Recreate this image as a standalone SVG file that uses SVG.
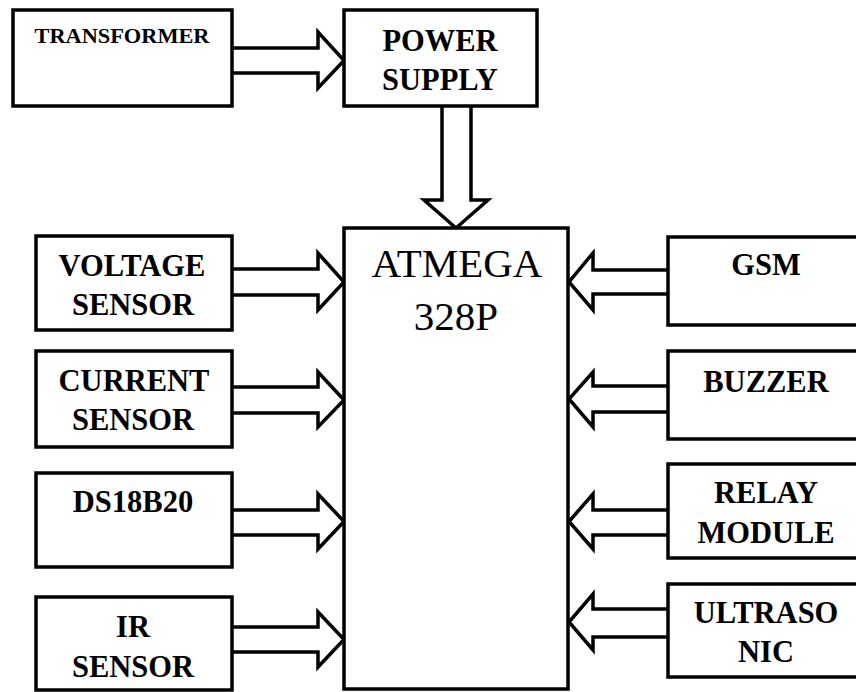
<svg xmlns="http://www.w3.org/2000/svg" width="856" height="692" viewBox="0 0 856 692">
<style>
.box{fill:#fff;stroke:#000;stroke-width:3.5}
.arr{fill:none;stroke:#000;stroke-width:3.5;stroke-linejoin:miter}
.lbl{font-family:"Liberation Serif","Times New Roman",serif;font-weight:bold;font-size:30.5px;text-anchor:middle;fill:#000}
.mcu{font-family:"Liberation Serif","Times New Roman",serif;font-size:41px;text-anchor:middle;fill:#000}
</style>
<rect width="856" height="692" fill="#fff"/>
<g id="connectors">
<path class="arr" d="M232,48 L318,48 L318,32 L344,60.5 L318,88 L318,73 L232,73"/>
<path class="arr" d="M442,106 L442,200 L424,200 L456,228 L488,200 L471,200 L471,106"/>
<path class="arr" d="M232,269 L318,269 L318,253 L344,282 L318,310 L318,295 L232,295"/>
<path class="arr" d="M232,387 L318,387 L318,372 L344,400 L318,427 L318,413 L232,413"/>
<path class="arr" d="M232,510 L318,510 L318,494 L344,521.5 L318,549 L318,535 L232,535"/>
<path class="arr" d="M232,627 L318,627 L318,612 L344,639.5 L318,667 L318,652 L232,652"/>
<path class="arr" d="M668,270 L593,270 L593,253 L569,282 L593,310 L593,294 L668,294"/>
<path class="arr" d="M668,386 L593,386 L593,372 L569,399 L593,427 L593,412 L668,412"/>
<path class="arr" d="M668,510 L593,510 L593,494 L569,521.5 L593,549 L593,535 L668,535"/>
<path class="arr" d="M668,609 L593,609 L593,594 L569,622 L593,650 L593,637 L668,637"/>
</g>
<g id="transformer"><rect class="box" x="13" y="10" width="219" height="96"/><text class="lbl" x="122" y="43" style="font-size:20px" textLength="175" lengthAdjust="spacingAndGlyphs">TRANSFORMER</text></g>
<g id="power-supply"><rect class="box" x="344" y="10" width="193" height="96"/><text class="lbl" x="440" y="51">POWER</text><text class="lbl" x="440" y="90">SUPPLY</text></g>
<g id="atmega"><rect class="box" x="344" y="228" width="224" height="461"/><text class="mcu" x="457" y="277">ATMEGA</text><text class="mcu" x="456" y="330">328P</text></g>
<g id="voltage-sensor"><rect class="box" x="36" y="236" width="196" height="94"/><text class="lbl" x="132" y="276">VOLTAGE</text><text class="lbl" x="133" y="315">SENSOR</text></g>
<g id="current-sensor"><rect class="box" x="36" y="351" width="196" height="96"/><text class="lbl" x="134" y="391">CURRENT</text><text class="lbl" x="133" y="430">SENSOR</text></g>
<g id="ds18b20"><rect class="box" x="36" y="473" width="196" height="94"/><text class="lbl" x="133" y="512">DS18B20</text></g>
<g id="ir-sensor"><rect class="box" x="36" y="597" width="196" height="93"/><text class="lbl" x="133" y="637">IR</text><text class="lbl" x="133" y="677">SENSOR</text></g>
<g id="gsm"><rect class="box" x="668" y="237" width="200" height="88"/><text class="lbl" x="766" y="275">GSM</text></g>
<g id="buzzer"><rect class="box" x="668" y="351" width="200" height="88"/><text class="lbl" x="766" y="392">BUZZER</text></g>
<g id="relay-module"><rect class="box" x="668" y="464" width="200" height="94"/><text class="lbl" x="766" y="503">RELAY</text><text class="lbl" x="766" y="543">MODULE</text></g>
<g id="ultrasonic"><rect class="box" x="668" y="584" width="200" height="93"/><text class="lbl" x="766" y="623">ULTRASO</text><text class="lbl" x="766" y="662">NIC</text></g>
</svg>
